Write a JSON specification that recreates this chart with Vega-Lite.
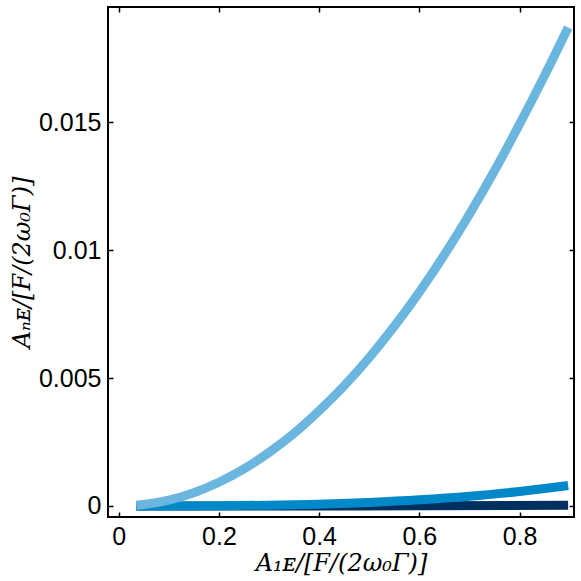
{
  "$schema": "https://vega.github.io/schema/vega-lite/v6.json",
  "autosize": "none",
  "width": 466,
  "height": 510,
  "padding": {"left": 108, "top": 7, "right": 7, "bottom": 64},
  "background": "white",
  "config": {
    "view": {"stroke": "black", "strokeWidth": 2},
    "axis": {
      "domain": false,
      "grid": false,
      "ticks": true,
      "tickColor": "black",
      "tickWidth": 1.5,
      "tickSize": -5,
      "labelFont": "Liberation Sans",
      "labelFontSize": 25,
      "labelColor": "black",
      "titleFont": "DejaVu Serif",
      "titleFontStyle": "italic",
      "titleFontWeight": "normal",
      "titleFontSize": 24,
      "titleColor": "black"
    }
  },
  "datasets": {
    "light": [
      {"a1": 0.035, "an": 0.00003},
      {"a1": 0.05, "an": 0.00006},
      {"a1": 0.1, "an": 0.00023},
      {"a1": 0.15, "an": 0.00052},
      {"a1": 0.2, "an": 0.00093},
      {"a1": 0.25, "an": 0.00145},
      {"a1": 0.3, "an": 0.00209},
      {"a1": 0.35, "an": 0.00284},
      {"a1": 0.4, "an": 0.00372},
      {"a1": 0.45, "an": 0.0047},
      {"a1": 0.5, "an": 0.0058},
      {"a1": 0.55, "an": 0.00702},
      {"a1": 0.6, "an": 0.00836},
      {"a1": 0.65, "an": 0.00982},
      {"a1": 0.7, "an": 0.0114},
      {"a1": 0.75, "an": 0.0131},
      {"a1": 0.8, "an": 0.01492},
      {"a1": 0.85, "an": 0.01682},
      {"a1": 0.897, "an": 0.0187}
    ],
    "mid": [
      {"a1": 0.035, "an": 0.0},
      {"a1": 0.1, "an": 0.000001},
      {"a1": 0.2, "an": 0.000009},
      {"a1": 0.3, "an": 0.00003},
      {"a1": 0.4, "an": 0.00007},
      {"a1": 0.5, "an": 0.00014},
      {"a1": 0.6, "an": 0.00024},
      {"a1": 0.7, "an": 0.00038},
      {"a1": 0.8, "an": 0.00057},
      {"a1": 0.85, "an": 0.00068},
      {"a1": 0.897, "an": 0.0008}
    ],
    "dark": [
      {"a1": 0.035, "an": 0.0},
      {"a1": 0.3, "an": 0.0},
      {"a1": 0.6, "an": 0.00001},
      {"a1": 0.897, "an": 0.00003}
    ]
  },
  "layer": [
    {
      "data": {"name": "dark"},
      "mark": {"type": "line", "color": "#00305f", "strokeWidth": 9, "strokeCap": "butt", "interpolate": "monotone"},
      "encoding": {
        "x": {
          "field": "a1", "type": "quantitative",
          "scale": {"domain": [-0.0214, 0.9087], "nice": false, "zero": false},
          "axis": {"values": [0, 0.2, 0.4, 0.6, 0.8], "labelExpr": "format(datum.value, '~g')", "labelPadding": 12, "title": "A₁ᴇ/[F/(2ω₀Γ)]", "titlePadding": 2}
        },
        "y": {
          "field": "an", "type": "quantitative",
          "scale": {"domain": [-0.00043, 0.0195], "nice": false, "zero": false},
          "axis": {"values": [0, 0.005, 0.01, 0.015], "labelExpr": "format(datum.value, '~g')", "labelPadding": 12, "title": "Aₙᴇ/[F/(2ω₀Γ)]", "titlePadding": 4}
        }
      }
    },
    {
      "data": {"name": "mid"},
      "mark": {"type": "line", "color": "#0088c9", "strokeWidth": 9, "strokeCap": "butt", "interpolate": "monotone"},
      "encoding": {
        "x": {"field": "a1", "type": "quantitative", "axis": null},
        "y": {"field": "an", "type": "quantitative", "axis": null}
      }
    },
    {
      "data": {"name": "light"},
      "mark": {"type": "line", "color": "#6bb6de", "strokeWidth": 9, "strokeCap": "butt", "interpolate": "monotone"},
      "encoding": {
        "x": {
          "field": "a1", "type": "quantitative",
          "axis": {"orient": "top", "values": [0, 0.2, 0.4, 0.6, 0.8], "labels": false, "title": null}
        },
        "y": {
          "field": "an", "type": "quantitative",
          "axis": {"orient": "right", "values": [0, 0.005, 0.01, 0.015], "labels": false, "title": null}
        }
      }
    }
  ],
  "resolve": {"axis": {"x": "independent", "y": "independent"}}
}
